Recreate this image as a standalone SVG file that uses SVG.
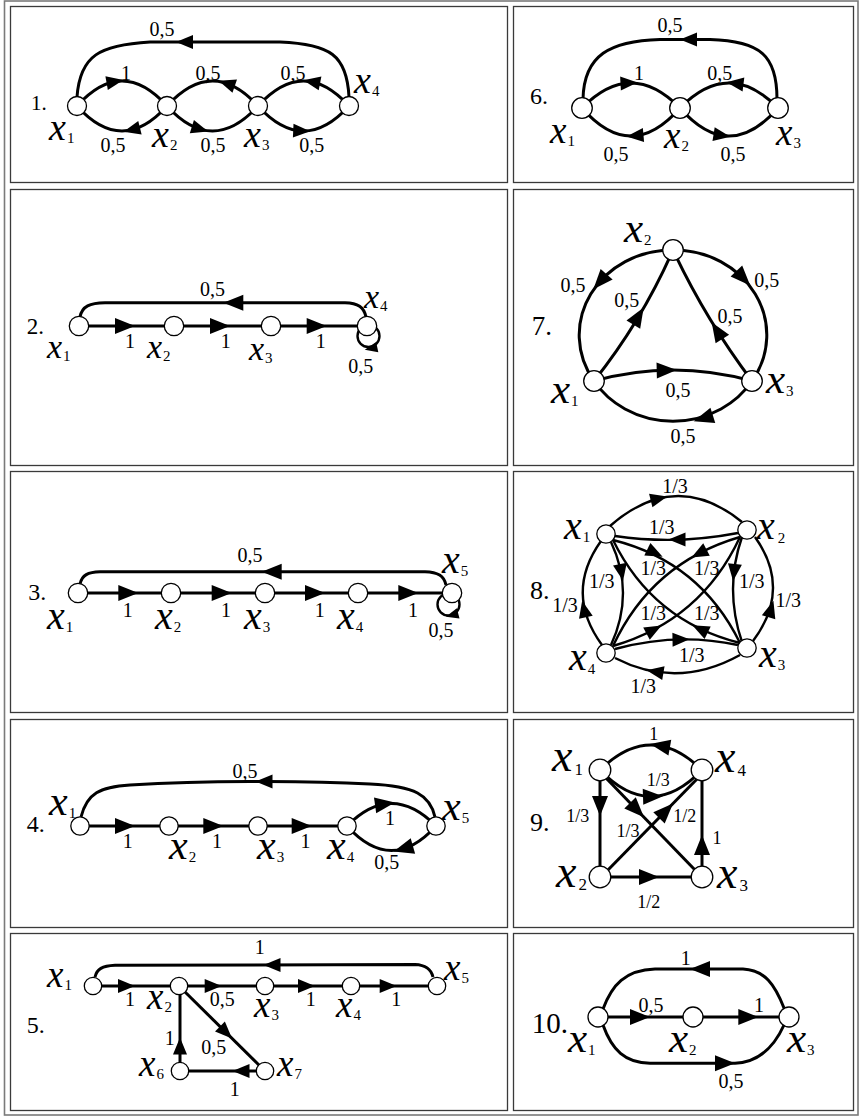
<svg xmlns="http://www.w3.org/2000/svg" width="859" height="1116" viewBox="0 0 859 1116">
<defs>
<style>
.cell{fill:none;stroke:#3a3a3a;stroke-width:1.3}
.outer{fill:none;stroke:#7a7a7a;stroke-width:1.6}
.e{fill:none;stroke:#000;stroke-width:3}
.e8{fill:none;stroke:#000;stroke-width:2.4}
.lp{fill:none;stroke:#000;stroke-width:2.4}
.n{fill:#fff;stroke:#000;stroke-width:1.3}
.el{font-family:"Liberation Serif","Times New Roman",serif;font-size:20px;text-anchor:middle;fill:#000}
.num{font-family:"Liberation Serif","Times New Roman",serif;fill:#000}
.nx{font-family:"Liberation Serif","Times New Roman",serif;font-style:italic;fill:#000}
.sb{font-style:normal;font-size:15px}
</style>
<path id="ah" d="M8.5,0 L-8.5,-7 L-8.5,7 Z"/>
<path id="ahL" d="M10,0 L-10,-8 L-10,8 Z"/>
</defs>
<rect width="859" height="1116" fill="#fff"/>
<g id="table">
<rect class="outer" x="4.5" y="1" width="853.5" height="1114"/>
<rect class="cell" x="10.5" y="6.5" width="497" height="176"/>
<rect class="cell" x="513.5" y="6.5" width="340" height="176"/>
<rect class="cell" x="10.5" y="189.5" width="497" height="276"/>
<rect class="cell" x="513.5" y="189.5" width="340" height="276"/>
<rect class="cell" x="10.5" y="471.5" width="497" height="241"/>
<rect class="cell" x="513.5" y="471.5" width="340" height="241"/>
<rect class="cell" x="10.5" y="719.5" width="497" height="208"/>
<rect class="cell" x="513.5" y="719.5" width="340" height="208"/>
<rect class="cell" x="10.5" y="933.5" width="497" height="177"/>
<rect class="cell" x="513.5" y="933.5" width="340" height="177"/>
</g>

<!-- Graph 1 -->
<g id="graph1" font-size="38">
<g id="g1-edges">
<path class="e" d="M77,97 C80,55 100,45 150,42 L280,42 C330,44 347,55 349,97"/>
<path class="e" d="M77,106 Q122,56 167,106"/>
<path class="e" d="M258,106 Q212.5,56 167,106"/>
<path class="e" d="M349,106 Q303.5,56 258,106"/>
<path class="e" d="M167,106 Q122,156 77,106"/>
<path class="e" d="M167,106 Q212.5,156 258,106"/>
<path class="e" d="M258,106 Q303.5,156 349,106"/>
<use href="#ah" transform="translate(184.5,42) rotate(180)"/>
<use href="#ah" transform="translate(115,81.6) rotate(-10)"/>
<use href="#ah" transform="translate(226.7,83.4) rotate(-161)"/>
<use href="#ah" transform="translate(311.7,81.8) rotate(-169)"/>
<use href="#ah" transform="translate(131.7,129.8) rotate(166)"/>
<use href="#ah" transform="translate(200,129.1) rotate(17)"/>
<use href="#ah" transform="translate(301.7,131) rotate(2.5)"/>
</g>
<g id="g1-labels">
<text class="el" x="162" y="36">0,5</text>
<text class="el" x="126" y="80">1</text>
<text class="el" x="208" y="80">0,5</text>
<text class="el" x="293" y="80">0,5</text>
<text class="el" x="113" y="151.7">0,5</text>
<text class="el" x="213" y="151.7">0,5</text>
<text class="el" x="311.7" y="151.7">0,5</text>
<text class="num" x="31" y="110" font-size="21">1.</text>
</g>
<g id="g1-x1"><circle class="n" cx="77" cy="106" r="9.5"/><text class="nx" x="49" y="140">x<tspan class="sb" dx="1" dy="3">1</tspan></text></g>
<g id="g1-x2"><circle class="n" cx="167" cy="106" r="9.5"/><text class="nx" x="152" y="146.7">x<tspan class="sb" dx="1" dy="3">2</tspan></text></g>
<g id="g1-x3"><circle class="n" cx="258" cy="106" r="9.5"/><text class="nx" x="244" y="146.7">x<tspan class="sb" dx="1" dy="3">3</tspan></text></g>
<g id="g1-x4"><circle class="n" cx="349" cy="106" r="9.5"/><text class="nx" x="354" y="93.3">x<tspan class="sb" dx="1" dy="3">4</tspan></text></g>
</g>

<!-- Graph 6 -->
<g id="graph6" font-size="37">
<g id="g6-edges">
<path class="e" d="M583,99 C584,55 610,41 660,39.5 L710,39.5 C760,41 777,55 777,99"/>
<path class="e" d="M582,108 Q631,58 680,108"/>
<path class="e" d="M778,108 Q729,58 680,108"/>
<path class="e" d="M680,108 Q631,164 582,108"/>
<path class="e" d="M680,108 Q729,164 778,108"/>
<use href="#ah" transform="translate(688.5,39.5) rotate(180)"/>
<use href="#ah" transform="translate(629,83) rotate(-3)"/>
<use href="#ah" transform="translate(735,83.4) rotate(187)"/>
<use href="#ah" transform="translate(635,135.8) rotate(175)"/>
<use href="#ah" transform="translate(722,135.5) rotate(9)"/>
</g>
<g id="g6-labels">
<text class="el" x="670" y="31.7">0,5</text>
<text class="el" x="639" y="80">1</text>
<text class="el" x="719.7" y="80">0,5</text>
<text class="el" x="616" y="160.7">0,5</text>
<text class="el" x="733" y="160.7">0,5</text>
<text class="num" x="530" y="104" font-size="24">6.</text>
</g>
<g id="g6-x1"><circle class="n" cx="582" cy="108" r="10.3"/><text class="nx" x="550" y="143.3">x<tspan class="sb" dx="1" dy="3">1</tspan></text></g>
<g id="g6-x2"><circle class="n" cx="680" cy="108" r="10.3"/><text class="nx" x="664" y="148.3">x<tspan class="sb" dx="1" dy="3">2</tspan></text></g>
<g id="g6-x3"><circle class="n" cx="778" cy="108" r="10.3"/><text class="nx" x="776" y="145">x<tspan class="sb" dx="1" dy="3">3</tspan></text></g>
</g>

<!-- Graph 2 -->
<g id="graph2" font-size="34">
<g id="g2-edges">
<path class="e" d="M79,326 L367,326"/>
<path class="e" d="M80,317 C82,306 90,303 105,302.7 L345,302.7 C358,303 364,307 366,317"/>
<circle class="lp" cx="368.5" cy="336" r="11"/>
<use href="#ahL" transform="translate(233.3,302.7) rotate(180)"/>
<use href="#ahL" transform="translate(125,326)"/>
<use href="#ahL" transform="translate(220,326)"/>
<use href="#ahL" transform="translate(316.7,326)"/>
<use href="#ah" transform="translate(371,348.5) rotate(168) scale(0.75)"/>
</g>
<g id="g2-labels">
<text class="el" x="212.5" y="296">0,5</text>
<text class="el" x="130" y="348.3">1</text>
<text class="el" x="225.8" y="348.3">1</text>
<text class="el" x="320.8" y="348.3">1</text>
<text class="el" x="360.8" y="372.7">0,5</text>
<text class="num" x="26.7" y="334.3" font-size="23">2.</text>
</g>
<g id="g2-x1"><circle class="n" cx="79" cy="326" r="9.7"/><text class="nx" x="47" y="358.3">x<tspan class="sb" dx="1" dy="3">1</tspan></text></g>
<g id="g2-x2"><circle class="n" cx="174" cy="326" r="9.7"/><text class="nx" x="147" y="358.3">x<tspan class="sb" dx="1" dy="3">2</tspan></text></g>
<g id="g2-x3"><circle class="n" cx="271" cy="326" r="9.7"/><text class="nx" x="249" y="360">x<tspan class="sb" dx="1" dy="3">3</tspan></text></g>
<g id="g2-x4"><circle class="n" cx="367" cy="326" r="9.7"/><text class="nx" x="364" y="308.3">x<tspan class="sb" dx="1" dy="3">4</tspan></text></g>
</g>

<!-- Graph 7 -->
<g id="graph7" font-size="43">
<g id="g7-edges">
<path class="e" d="M673,250 A93,85 0 0 0 594,381"/>
<path class="e" d="M673,250 A93,85 0 0 1 752,381"/>
<path class="e" d="M752,381 A93,85 0 0 1 594,381"/>
<path class="e" d="M594,381 Q642,320.7 673,250"/>
<path class="e" d="M752,381 Q705.7,319.6 673,250"/>
<path class="e" d="M594,381 Q673,359 752,381"/>
<use href="#ahL" transform="translate(600,281.7) rotate(131.5)"/>
<use href="#ahL" transform="translate(743.3,278.3) rotate(46.4)"/>
<use href="#ahL" transform="translate(703.3,418.3) rotate(162.6)"/>
<use href="#ahL" transform="translate(638.5,316) rotate(-58.9)"/>
<use href="#ahL" transform="translate(717,330.6) rotate(-122.3)"/>
<use href="#ahL" transform="translate(666.7,370.2) rotate(-1.3)"/>
</g>
<g id="g7-labels">
<text class="el" x="573" y="291.7">0,5</text>
<text class="el" x="626.7" y="306.7">0,5</text>
<text class="el" x="766.7" y="286.7">0,5</text>
<text class="el" x="730" y="323.3">0,5</text>
<text class="el" x="678" y="396.7">0,5</text>
<text class="el" x="683" y="443.3">0,5</text>
<text class="num" x="531.7" y="335" font-size="27">7.</text>
</g>
<g id="g7-x2"><circle class="n" cx="673" cy="250" r="10.3"/><text class="nx" x="624" y="241.7">x<tspan class="sb" dx="1" dy="3">2</tspan></text></g>
<g id="g7-x1"><circle class="n" cx="594" cy="381" r="10.3"/><text class="nx" x="551" y="402.7">x<tspan class="sb" dx="1" dy="3">1</tspan></text></g>
<g id="g7-x3"><circle class="n" cx="752" cy="381" r="10.3"/><text class="nx" x="766" y="392.7">x<tspan class="sb" dx="1" dy="3">3</tspan></text></g>
</g>

<!-- Graph 3 -->
<g id="graph3" font-size="40">
<g id="g3-edges">
<path class="e" d="M78,593 L452,593"/>
<path class="e" d="M80,584 C82,575 88,572 100,571.7 L425,571.7 C438,572 444,576 446,585"/>
<circle class="lp" cx="448.5" cy="604.5" r="11"/>
<use href="#ahL" transform="translate(271.7,571.7) rotate(180)"/>
<use href="#ahL" transform="translate(128.3,593)"/>
<use href="#ahL" transform="translate(221.7,593)"/>
<use href="#ahL" transform="translate(315,593)"/>
<use href="#ahL" transform="translate(408.3,593)"/>
<use href="#ah" transform="translate(452,615) rotate(165) scale(0.75)"/>
</g>
<g id="g3-labels">
<text class="el" x="250" y="561.7">0,5</text>
<text class="el" x="127.7" y="616.7">1</text>
<text class="el" x="226" y="616.7">1</text>
<text class="el" x="319.7" y="616.7">1</text>
<text class="el" x="413" y="616.7">1</text>
<text class="el" x="441" y="637">0,5</text>
<text class="num" x="28.3" y="600" font-size="24">3.</text>
</g>
<g id="g3-x1"><circle class="n" cx="78" cy="593" r="9.7"/><text class="nx" x="47" y="629.3">x<tspan class="sb" dx="1" dy="3">1</tspan></text></g>
<g id="g3-x2"><circle class="n" cx="171" cy="593" r="9.7"/><text class="nx" x="155" y="629.3">x<tspan class="sb" dx="1" dy="3">2</tspan></text></g>
<g id="g3-x3"><circle class="n" cx="265" cy="593" r="9.7"/><text class="nx" x="244" y="629.3">x<tspan class="sb" dx="1" dy="3">3</tspan></text></g>
<g id="g3-x4"><circle class="n" cx="358" cy="593" r="9.7"/><text class="nx" x="337" y="629.3">x<tspan class="sb" dx="1" dy="3">4</tspan></text></g>
<g id="g3-x5"><circle class="n" cx="452" cy="593" r="9.7"/><text class="nx" x="442" y="573.3">x<tspan class="sb" dx="1" dy="3">5</tspan></text></g>
</g>

<!-- Graph 8 -->
<g id="graph8" font-size="40">
<g id="g8-edges">
<path class="e8" d="M610,526 Q676,468 742,522"/>
<path class="e8" d="M753,641 Q792,589 755,537"/>
<path class="e8" d="M740,655 Q677,690 615,658"/>
<path class="e8" d="M602,645 Q564,593 601,541"/>
<path class="e8" d="M738,533 Q676,545 615,536"/>
<path class="e8" d="M615,649 Q677,632 738,645"/>
<path class="e8" d="M611,542 Q635,593 611,645"/>
<path class="e8" d="M742,537 Q724,589 742,642"/>
<path class="e8" d="M613,540 Q700.4,562 740,643"/>
<path class="e8" d="M740,643 Q652.6,621 613,540"/>
<path class="e8" d="M740,537 Q651.8,562.7 613,646"/>
<path class="e8" d="M613,646 Q701.2,620.3 740,537"/>
<use href="#ah" transform="translate(659,498.5) rotate(-14)"/>
<use href="#ah" transform="translate(771,609) rotate(-73.5)"/>
<use href="#ah" transform="translate(655,671.7) rotate(189.6)"/>
<use href="#ah" transform="translate(584,609) rotate(-102.7)"/>
<use href="#ah" transform="translate(677,539.5) rotate(180)"/>
<use href="#ah" transform="translate(681,639.5) rotate(-1)"/>
<use href="#ah" transform="translate(621.5,572.5) rotate(79.4)"/>
<use href="#ah" transform="translate(734,572.5) rotate(96.3)"/>
<use href="#ah" transform="translate(655,553) rotate(26)"/>
<use href="#ah" transform="translate(700,629) rotate(206)"/>
<use href="#ah" transform="translate(699,553.5) rotate(152)"/>
<use href="#ah" transform="translate(654,629.6) rotate(-28)"/>
</g>
<g id="g8-labels">
<text class="el" x="675" y="493.3">1/3</text>
<text class="el" x="661.7" y="534">1/3</text>
<text class="el" x="601.7" y="588.3">1/3</text>
<text class="el" x="653.3" y="575">1/3</text>
<text class="el" x="706.7" y="575">1/3</text>
<text class="el" x="751.7" y="588.3">1/3</text>
<text class="el" x="565" y="611.7">1/3</text>
<text class="el" x="788.3" y="606.7">1/3</text>
<text class="el" x="653.3" y="620">1/3</text>
<text class="el" x="706.7" y="620">1/3</text>
<text class="el" x="691.7" y="661.7">1/3</text>
<text class="el" x="643.3" y="693.3">1/3</text>
<text class="num" x="530" y="599.3" font-size="26">8.</text>
</g>
<g id="g8-x1"><circle class="n" cx="606" cy="534" r="9.2"/><text class="nx" x="564" y="539.3">x<tspan class="sb" dx="1" dy="3">1</tspan></text></g>
<g id="g8-x2"><circle class="n" cx="747" cy="530" r="9.2"/><text class="nx" x="757" y="539.3">x<tspan class="sb" dx="3" dy="4">2</tspan></text></g>
<g id="g8-x3"><circle class="n" cx="747" cy="648" r="9.2"/><text class="nx" x="759" y="666.7">x<tspan class="sb" dx="1" dy="3">3</tspan></text></g>
<g id="g8-x4"><circle class="n" cx="606" cy="653" r="9.2"/><text class="nx" x="569" y="670">x<tspan class="sb" dx="1" dy="4">4</tspan></text></g>
</g>

<!-- Graph 4 -->
<g id="graph4" font-size="42">
<g id="g4-edges">
<path class="e" d="M80,826 L347,826"/>
<path class="e" d="M81,817 C87,793 100,787 130,785 C200,781 300,780 370,784 C415,786 430,795 435,817"/>
<path class="e" d="M347,826 Q391.5,781 436,826"/>
<path class="e" d="M436,826 Q391.5,875 347,826"/>
<use href="#ah" transform="translate(264,781.5) rotate(180)"/>
<use href="#ahL" transform="translate(385,804) rotate(-8)"/>
<use href="#ahL" transform="translate(403.3,848.8) rotate(164)"/>
<use href="#ahL" transform="translate(125,826)"/>
<use href="#ahL" transform="translate(213.3,826)"/>
<use href="#ahL" transform="translate(301.7,826)"/>
</g>
<g id="g4-labels">
<text class="el" x="245" y="777.7">0,5</text>
<text class="el" x="127.8" y="847.7">1</text>
<text class="el" x="217" y="847.7">1</text>
<text class="el" x="305.5" y="847.7">1</text>
<text class="el" x="390" y="825">1</text>
<text class="el" x="386.7" y="869.3">0,5</text>
<text class="num" x="26.7" y="831.7" font-size="24">4.</text>
</g>
<g id="g4-x1"><circle class="n" cx="80" cy="826" r="9.2"/><text class="nx" x="49" y="815">x<tspan class="sb" dx="1" dy="3">1</tspan></text></g>
<g id="g4-x2"><circle class="n" cx="169" cy="826" r="9.2"/><text class="nx" x="169" y="859.3">x<tspan class="sb" dx="1" dy="3">2</tspan></text></g>
<g id="g4-x3"><circle class="n" cx="258" cy="826" r="9.2"/><text class="nx" x="257" y="859.3">x<tspan class="sb" dx="1" dy="3">3</tspan></text></g>
<g id="g4-x4"><circle class="n" cx="347" cy="826" r="9.2"/><text class="nx" x="327" y="859.3">x<tspan class="sb" dx="1" dy="3">4</tspan></text></g>
<g id="g4-x5"><circle class="n" cx="436" cy="826" r="9.2"/><text class="nx" x="442" y="820">x<tspan class="sb" dx="1" dy="3">5</tspan></text></g>
</g>

<!-- Graph 9 -->
<g id="graph9" font-size="46">
<g id="g9-edges">
<path class="e" d="M702,770 Q651,720 600,770"/>
<path class="e" d="M600,770 Q651,823 702,770"/>
<path class="e" d="M600,770 L600,877"/>
<path class="e" d="M702,877 L702,770"/>
<path class="e" d="M600,877 L702,877"/>
<path class="e" d="M605,777 L696,871"/>
<path class="e" d="M606,872 L697,779"/>
<use href="#ahL" transform="translate(660,745.8) rotate(190)"/>
<use href="#ahL" transform="translate(653,796.5) rotate(-2)"/>
<use href="#ahL" transform="translate(600,806) rotate(90)"/>
<use href="#ahL" transform="translate(702,845) rotate(-90)"/>
<use href="#ahL" transform="translate(649,877)"/>
<use href="#ahL" transform="translate(637,810) rotate(45.9)"/>
<use href="#ahL" transform="translate(666,810.7) rotate(-45.6)"/>
</g>
<g id="g9-labels">
<text class="el" x="653.7" y="740" style="font-size:18px">1</text>
<text class="el" x="658.3" y="786" style="font-size:18px">1/3</text>
<text class="el" x="577.7" y="821.7" style="font-size:18px">1/3</text>
<text class="el" x="628" y="837.3" style="font-size:18px">1/3</text>
<text class="el" x="684.7" y="821.7" style="font-size:18px">1/2</text>
<text class="el" x="717" y="844" style="font-size:18px">1</text>
<text class="el" x="648.7" y="907.7" style="font-size:18px">1/2</text>
<text class="num" x="530" y="830.7" font-size="26">9.</text>
</g>
<g id="g9-x1"><circle class="n" cx="600" cy="770" r="10.8"/><text class="nx" x="552" y="770.7">x<tspan class="sb" dx="2" dy="4" style="font-size:17px">1</tspan></text></g>
<g id="g9-x4"><circle class="n" cx="702" cy="770" r="10.8"/><text class="nx" x="715" y="772">x<tspan class="sb" dx="2" dy="4" style="font-size:17px">4</tspan></text></g>
<g id="g9-x2"><circle class="n" cx="600" cy="877" r="10.8"/><text class="nx" x="556" y="886.7">x<tspan class="sb" dx="2" dy="3" style="font-size:17px">2</tspan></text></g>
<g id="g9-x3"><circle class="n" cx="702" cy="877" r="10.8"/><text class="nx" x="717" y="887.5">x<tspan class="sb" dx="2" dy="3" style="font-size:17px">3</tspan></text></g>
</g>

<!-- Graph 5 -->
<g id="graph5" font-size="37">
<g id="g5-edges">
<path class="e" d="M93,986 L437,986"/>
<path class="e" d="M95,977 C97,969 102,966 115,965.3 L415,964.5 C426,965 431,969 433,977"/>
<path class="e" d="M179,986 L265,1071"/>
<path class="e" d="M180,1071 L180,986"/>
<path class="e" d="M265,1071 L180,1071"/>
<use href="#ah" transform="translate(272,965) rotate(180)"/>
<use href="#ah" transform="translate(226,1032.5) rotate(44.7)"/>
<use href="#ah" transform="translate(180,1046) rotate(-90)"/>
<use href="#ah" transform="translate(241,1071) rotate(180)"/>
<use href="#ah" transform="translate(126.5,986)"/>
<use href="#ah" transform="translate(213.2,986)"/>
<use href="#ah" transform="translate(306.5,986)"/>
<use href="#ah" transform="translate(388.2,986)"/>
</g>
<g id="g5-labels">
<text class="el" x="259.7" y="954">1</text>
<text class="el" x="130" y="1006">1</text>
<text class="el" x="222.2" y="1006">0,5</text>
<text class="el" x="310.8" y="1006">1</text>
<text class="el" x="396.3" y="1006">1</text>
<text class="el" x="169.7" y="1045">1</text>
<text class="el" x="213.8" y="1054">0,5</text>
<text class="el" x="234.7" y="1096">1</text>
<text class="num" x="26.7" y="1033.3" font-size="24">5.</text>
</g>
<g id="g5-x1"><circle class="n" cx="93" cy="986" r="8.7"/><text class="nx" x="47" y="987.3">x<tspan class="sb" dx="1" dy="3">1</tspan></text></g>
<g id="g5-x2"><circle class="n" cx="179" cy="986" r="8.7"/><text class="nx" x="147" y="1009.3">x<tspan class="sb" dx="1" dy="3">2</tspan></text></g>
<g id="g5-x3"><circle class="n" cx="265" cy="986" r="8.7"/><text class="nx" x="254" y="1016.7">x<tspan class="sb" dx="1" dy="3">3</tspan></text></g>
<g id="g5-x4"><circle class="n" cx="351" cy="986" r="8.7"/><text class="nx" x="336" y="1016.7">x<tspan class="sb" dx="1" dy="3">4</tspan></text></g>
<g id="g5-x5"><circle class="n" cx="437" cy="986" r="8.7"/><text class="nx" x="444" y="980">x<tspan class="sb" dx="1" dy="3">5</tspan></text></g>
<g id="g5-x6"><circle class="n" cx="180" cy="1071" r="8.7"/><text class="nx" x="139" y="1076">x<tspan class="sb" dx="1" dy="3">6</tspan></text></g>
<g id="g5-x7"><circle class="n" cx="265" cy="1071" r="8.7"/><text class="nx" x="277" y="1076">x<tspan class="sb" dx="1" dy="3">7</tspan></text></g>
</g>

<!-- Graph 10 -->
<g id="graph10" font-size="43">
<g id="g10-edges">
<path class="e" d="M598,1017 L789,1017"/>
<path class="e" d="M603,1009 C612,985 625,970 655,969 L743,969 C765,970 775,985 784,1008"/>
<path class="e" d="M603,1025 C612,1050 625,1063 650,1063.3 L735,1063.3 C760,1062 775,1045 784,1025"/>
<use href="#ahL" transform="translate(700,969) rotate(180)"/>
<use href="#ahL" transform="translate(725,1063.3)"/>
<use href="#ahL" transform="translate(640,1017)"/>
<use href="#ahL" transform="translate(748.3,1017)"/>
</g>
<g id="g10-labels">
<text class="el" x="685.8" y="965">1</text>
<text class="el" x="651" y="1011.7">0,5</text>
<text class="el" x="759" y="1011.7">1</text>
<text class="el" x="731" y="1088.3">0,5</text>
<text class="num" x="531.7" y="1033.3" font-size="29">10.</text>
</g>
<g id="g10-x1"><circle class="n" cx="598" cy="1017" r="10"/><text class="nx" x="568" y="1051.7">x<tspan class="sb" dx="1" dy="3">1</tspan></text></g>
<g id="g10-x2"><circle class="n" cx="693" cy="1017" r="10"/><text class="nx" x="669" y="1051.7">x<tspan class="sb" dx="1" dy="3">2</tspan></text></g>
<g id="g10-x3"><circle class="n" cx="789" cy="1017" r="10"/><text class="nx" x="787" y="1051.7">x<tspan class="sb" dx="1" dy="3">3</tspan></text></g>
</g>
</svg>
